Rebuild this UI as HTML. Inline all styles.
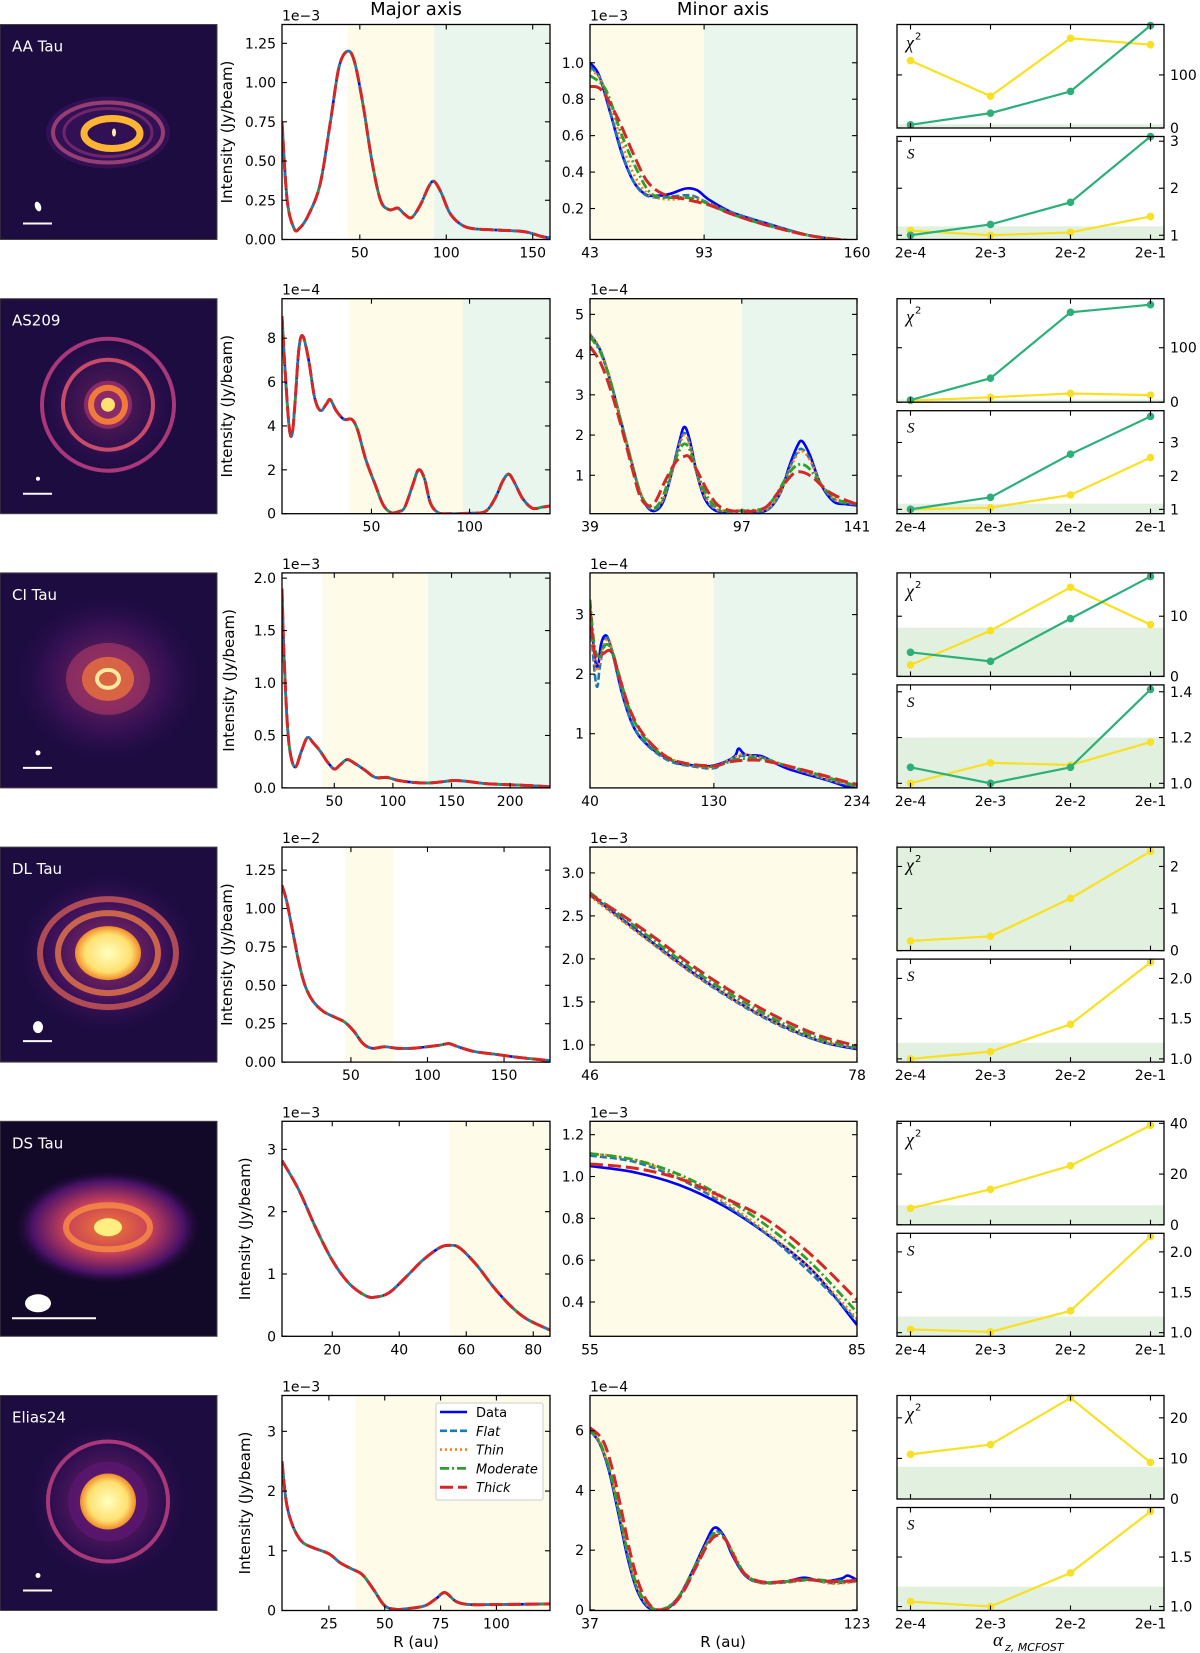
<!DOCTYPE html>
<html><head><meta charset="utf-8"><style>
html,body{margin:0;padding:0;background:#fff;}
svg{display:block;font-family:"DejaVu Sans","Liberation Sans",sans-serif;}
</style></head><body>
<svg id="fig" width="1200" height="1653" viewBox="0 0 1200 1653" xmlns="http://www.w3.org/2000/svg">
<defs>
<radialGradient id="gGlow" cx="50%" cy="50%" r="50%"><stop offset="0" stop-color="#c2406a" stop-opacity="0.9"/><stop offset="0.6" stop-color="#5a1670" stop-opacity="0.6"/><stop offset="1" stop-color="#1c0c40" stop-opacity="0"/></radialGradient>
<radialGradient id="gCore" cx="50%" cy="50%" r="50%"><stop offset="0" stop-color="#ffffc0"/><stop offset="0.7" stop-color="#ffe070"/><stop offset="1" stop-color="#f08a2a"/></radialGradient>
<radialGradient id="gDS" cx="50%" cy="50%" r="50%"><stop offset="0" stop-color="#f07a30"/><stop offset="0.45" stop-color="#c8405a"/><stop offset="0.8" stop-color="#4a1268"/><stop offset="1" stop-color="#120828" stop-opacity="0"/></radialGradient>
</defs>
</svg>
<script>
// ===== Row 1: AA Tau =====
const aaMajor = [[5,0.75],[8,0.25],[12,0.07],[15,0.07],[20,0.15],[27,0.35],[33,0.75],[38,1.1],[43,1.2],[47,1.13],[52,0.85],[57,0.5],[62,0.25],[67,0.19],[72,0.2],[76,0.16],[80,0.14],[85,0.22],[90,0.34],[93,0.37],[97,0.3],[102,0.17],[108,0.1],[115,0.07],[130,0.06],[145,0.05],[155,0.02],[160,0.01]];
const aaMinorData = [[43,1.0],[47,0.93],[52,0.72],[57,0.5],[62,0.35],[67,0.28],[72,0.27],[78,0.28],[85,0.31],[90,0.3],[95,0.25],[105,0.18],[120,0.12],[140,0.05],[160,0.02]];
const aaMinorFlat = [[43,0.98],[48,0.9],[53,0.68],[58,0.47],[63,0.33],[68,0.27],[75,0.26],[82,0.27],[88,0.27],[95,0.23],[105,0.18],[120,0.12],[140,0.05],[160,0.02]];
const aaMinorThin = [[43,0.96],[48,0.9],[54,0.68],[60,0.45],[66,0.31],[72,0.26],[80,0.25],[88,0.26],[95,0.23],[105,0.17],[120,0.11],[140,0.05],[160,0.02]];
const aaMinorModerate = [[43,0.93],[50,0.85],[57,0.6],[64,0.4],[70,0.28],[78,0.26],[85,0.26],[92,0.24],[105,0.17],[120,0.11],[140,0.05],[160,0.02]];
const aaMinorThick = [[43,0.87],[48,0.85],[55,0.7],[62,0.5],[68,0.35],[75,0.28],[85,0.25],[95,0.22],[105,0.17],[120,0.11],[140,0.05],[160,0.02]];
const aaChiYellow = [127,60,169,157];
const aaChiGreen = [6,28,69,193];
const aaSYellow = [1.1,1.0,1.06,1.4];
const aaSGreen = [1.0,1.23,1.7,3.1];

// ===== Row 2: AS209 =====
const asMajor = [[4.4,9.0],[6,6.5],[8,4.0],[9.5,3.6],[11,5],[13,7.5],[15,8.1],[18,7.0],[21,5.3],[24,4.7],[27,5.0],[29,5.2],[32,4.7],[36,4.3],[40,4.3],[43,3.8],[47,2.5],[52,1.3],[56,0.4],[60,0.05],[64,0.1],[67,0.3],[71,1.3],[74,2.0],[77,1.6],[80,0.5],[84,0.05],[90,0.0],[100,0.02],[108,0.1],[113,0.7],[117,1.5],[120,1.8],[123,1.4],[127,0.7],[132,0.25],[137,0.3],[141,0.35]];
const asMinorData = [[39,4.5],[43,4.1],[47,3.3],[51,2.3],[55,1.3],[58,0.6],[61,0.2],[64,0.12],[67,0.35],[70,1.0],[73,1.8],[75,2.2],[77,1.9],[80,1.0],[83,0.4],[87,0.12],[92,0.1],[97,0.12],[100,0.1],[104,0.08],[108,0.2],[112,0.6],[115,1.2],[118,1.7],[120,1.85],[123,1.5],[127,0.8],[132,0.35],[137,0.28],[141,0.25]];
const asMinorFlat = [[39,4.5],[43,4.1],[47,3.3],[51,2.3],[55,1.3],[58,0.6],[61,0.22],[64,0.15],[67,0.4],[70,1.0],[73,1.75],[75,2.05],[77,1.8],[80,1.0],[83,0.45],[87,0.15],[92,0.1],[97,0.12],[104,0.1],[108,0.2],[112,0.6],[115,1.15],[118,1.55],[120,1.65],[123,1.4],[127,0.8],[132,0.4],[137,0.3],[141,0.28]];
const asMinorThin = [[39,4.52],[43,4.12],[47,3.32],[51,2.3],[55,1.32],[58,0.62],[61,0.24],[64,0.18],[67,0.42],[70,1.02],[73,1.7],[75,2.0],[77,1.78],[80,1.02],[83,0.48],[87,0.17],[92,0.11],[97,0.14],[104,0.12],[108,0.22],[112,0.62],[115,1.1],[118,1.5],[120,1.6],[123,1.38],[127,0.82],[132,0.42],[137,0.32],[141,0.3]];
const asMinorModerate = [[39,4.45],[43,4.05],[47,3.3],[51,2.3],[55,1.3],[58,0.6],[61,0.25],[64,0.2],[67,0.5],[70,1.1],[73,1.6],[75,1.78],[77,1.65],[80,1.05],[84,0.45],[88,0.18],[93,0.1],[100,0.12],[106,0.2],[110,0.5],[114,0.95],[117,1.2],[120,1.27],[123,1.15],[127,0.8],[132,0.45],[137,0.32],[141,0.28]];
const asMinorThick = [[39,4.2],[43,3.8],[47,3.1],[51,2.2],[55,1.2],[58,0.5],[61,0.25],[64,0.35],[68,0.9],[72,1.35],[75,1.47],[77,1.45],[80,1.1],[84,0.6],[88,0.25],[93,0.12],[100,0.1],[106,0.2],[110,0.5],[114,0.85],[117,1.05],[120,1.08],[124,0.95],[130,0.6],[136,0.4],[141,0.28]];
const asChiYellow = [3,9,16,13];
const asChiGreen = [4,44,165,179];
const asSYellow = [1.0,1.05,1.43,2.55];
const asSGreen = [1.0,1.36,2.65,3.78];

// ===== Row 3: CI Tau =====
const ciMajor = [[5.4,1.9],[7,1.3],[10,0.6],[13,0.3],[17,0.2],[22,0.35],[27,0.48],[32,0.43],[38,0.35],[44,0.25],[50,0.18],[55,0.22],[61,0.27],[68,0.23],[76,0.17],[85,0.1],[95,0.1],[105,0.07],[120,0.05],[135,0.05],[152,0.07],[165,0.06],[180,0.04],[200,0.03],[220,0.02],[234,0.01]];
const ciMinorData = [[40,3.1],[42,2.6],[44,2.2],[46,2.15],[48,2.5],[51,2.65],[54,2.55],[58,2.2],[63,1.7],[70,1.2],[76,0.95],[85,0.75],[95,0.6],[105,0.5],[115,0.47],[125,0.45],[135,0.5],[145,0.62],[148,0.75],[153,0.65],[165,0.62],[175,0.5],[185,0.4],[200,0.3],[215,0.2],[228,0.1],[234,0.1]];
const ciMinorFlat = [[40,3.0],[42,2.4],[44,1.9],[45.5,1.8],[47,2.1],[50,2.5],[53,2.6],[57,2.3],[62,1.8],[70,1.2],[78,0.9],[88,0.68],[100,0.52],[115,0.45],[130,0.42],[140,0.55],[148,0.62],[155,0.63],[165,0.6],[180,0.48],[200,0.32],[220,0.18],[234,0.12]];
const ciMinorThin = [[40,3.1],[43,2.3],[45,2.05],[48,2.3],[51,2.55],[54,2.55],[58,2.25],[63,1.8],[70,1.3],[80,0.95],[92,0.68],[105,0.52],[120,0.45],[130,0.44],[140,0.55],[150,0.65],[160,0.62],[175,0.52],[195,0.37],[215,0.22],[234,0.12]];
const ciMinorModerate = [[40,3.25],[43,2.5],[46,2.3],[49,2.4],[52,2.5],[56,2.4],[61,2.0],[68,1.45],[76,1.05],[88,0.72],[100,0.55],[115,0.47],[130,0.45],[140,0.52],[150,0.58],[165,0.57],[185,0.45],[205,0.32],[225,0.18],[234,0.13]];
const ciMinorThick = [[40,3.1],[43,2.4],[46,2.3],[50,2.35],[54,2.4],[57,2.3],[62,1.9],[70,1.35],[80,0.95],[95,0.62],[110,0.5],[130,0.46],[140,0.52],[150,0.55],[165,0.55],[185,0.45],[205,0.33],[225,0.2],[234,0.15]];
const ciChiYellow = [1.9,7.6,14.8,8.6];
const ciChiGreen = [4.0,2.5,9.6,16.6];
const ciSYellow = [1.0,1.09,1.08,1.18];
const ciSGreen = [1.07,1.0,1.07,1.41];

// ===== Row 4: DL Tau =====
const dlMajor = [[5,1.15],[8,1.05],[12,0.85],[16,0.65],[20,0.5],[25,0.4],[32,0.33],[40,0.29],[46,0.26],[52,0.2],[58,0.12],[64,0.09],[72,0.1],[80,0.09],[90,0.09],[100,0.1],[108,0.11],[114,0.12],[120,0.1],[130,0.07],[145,0.05],[160,0.03],[180,0.01]];
const dlMinorData = [[46,2.75],[50,2.45],[54,2.15],[58,1.86],[62,1.6],[66,1.37],[70,1.18],[74,1.03],[78,0.95]];
const dlMinorFlat = [[46,2.74],[50,2.44],[54,2.14],[58,1.85],[62,1.59],[66,1.36],[70,1.17],[74,1.03],[78,0.96]];
const dlMinorThin = [[46,2.73],[50,2.43],[54,2.14],[58,1.85],[62,1.6],[66,1.37],[70,1.18],[74,1.04],[78,0.96]];
const dlMinorModerate = [[46,2.77],[50,2.48],[54,2.19],[58,1.9],[62,1.64],[66,1.41],[70,1.21],[74,1.06],[78,0.97]];
const dlMinorThick = [[46,2.75],[50,2.5],[54,2.23],[58,1.94],[62,1.68],[66,1.45],[70,1.25],[74,1.09],[78,0.99]];
const dlChiYellow = [0.23,0.34,1.24,2.36];
const dlSYellow = [1.0,1.09,1.43,2.2];

// ===== Row 5: DS Tau =====
const dsMajor = [[5,2.82],[10,2.35],[15,1.75],[20,1.22],[25,0.85],[30,0.65],[33,0.63],[37,0.7],[42,0.95],[47,1.22],[52,1.42],[55,1.46],[58,1.42],[63,1.15],[68,0.8],[73,0.5],[78,0.28],[85,0.1]];
const dsMinorData = [[55,1.05],[60,1.02],[65,0.96],[70,0.86],[75,0.72],[80,0.55],[85,0.29]];
const dsMinorFlat = [[55,1.1],[60,1.07],[65,0.99],[70,0.87],[75,0.72],[80,0.53],[85,0.31]];
const dsMinorThin = [[55,1.11],[60,1.08],[65,1.0],[70,0.88],[75,0.73],[80,0.55],[85,0.32]];
const dsMinorModerate = [[55,1.11],[60,1.08],[65,1.01],[70,0.9],[75,0.76],[80,0.58],[85,0.35]];
const dsMinorThick = [[55,1.06],[60,1.04],[65,0.99],[70,0.9],[75,0.79],[80,0.62],[85,0.41]];
const dsChiYellow = [6.5,14,23.3,39.2];
const dsSYellow = [1.04,1.01,1.27,2.19];

// ===== Row 6: Elias24 =====
const elMajor = [[4,2.5],[6,1.8],[9,1.4],[13,1.15],[18,1.05],[25,0.95],[30,0.8],[35,0.7],[40,0.6],[45,0.35],[50,0.08],[55,0.02],[60,0.03],[68,0.08],[73,0.2],[77,0.3],[82,0.15],[88,0.1],[100,0.1],[124,0.11]];
const elMinorData = [[37,6.0],[40,5.6],[43,4.7],[46,3.3],[49,1.8],[52,0.7],[55,0.15],[58,0.0],[62,0.05],[66,0.5],[70,1.3],[74,2.2],[77,2.75],[80,2.5],[83,1.8],[87,1.15],[92,0.92],[100,0.95],[106,1.08],[112,0.95],[118,1.05],[120,1.15],[123,1.0]];
const elMinorFlat = [[37,6.0],[40,5.6],[43,4.75],[46,3.4],[49,1.9],[52,0.75],[55,0.2],[58,0.0],[62,0.1],[66,0.45],[70,1.2],[74,2.1],[77,2.6],[80,2.5],[83,1.9],[87,1.15],[92,0.9],[100,0.92],[108,1.0],[115,0.9],[123,0.95]];
const elMinorThin = [[37,6.02],[40,5.62],[43,4.78],[46,3.45],[49,1.95],[52,0.8],[55,0.22],[58,0.02],[62,0.1],[66,0.5],[70,1.22],[74,2.1],[77,2.55],[80,2.45],[83,1.95],[87,1.2],[92,0.9],[100,0.93],[108,1.0],[115,0.88],[123,0.95]];
const elMinorModerate = [[37,6.05],[40,5.65],[43,4.8],[46,3.5],[49,2.0],[52,0.85],[55,0.25],[58,0.02],[62,0.08],[66,0.5],[70,1.3],[74,2.1],[77,2.55],[80,2.45],[83,1.9],[87,1.2],[92,0.93],[100,0.95],[108,1.02],[115,0.97],[123,0.98]];
const elMinorThick = [[37,6.1],[41,5.7],[44,4.8],[47,3.4],[50,1.9],[53,0.8],[56,0.2],[59,0.0],[63,0.1],[67,0.6],[71,1.4],[75,2.2],[78,2.5],[81,2.3],[85,1.45],[89,1.05],[95,0.92],[105,1.02],[112,0.97],[118,0.95],[123,1.0]];
const elChiYellow = [11,13.4,24.9,9];
const elSYellow = [1.05,1.0,1.34,1.96];

const alphaLabels = ["2e-4","2e-3","2e-2","2e-1"];
const legendLabels = ["Data","Flat","Thin","Moderate","Thick"];

const NS = "http://www.w3.org/2000/svg";
const svg = document.getElementById("fig");
function mk(tag, attrs, parent){ const e=document.createElementNS(NS,tag); for(const k in attrs) e.setAttribute(k,attrs[k]); (parent||svg).appendChild(e); return e; }
function tag(e, n, inter){
  
  
}
function txt(x,y,s,attrs,parent){ const t=mk("text",Object.assign({x:x,y:y,"font-size":14,fill:"#000"},attrs||{}),parent); t.textContent=s; return t; }
function smooth(pts){
  let d="M"+pts[0][0].toFixed(2)+","+pts[0][1].toFixed(2);
  for(let i=0;i<pts.length-1;i++){
    const p0=pts[i-1]||pts[i], p1=pts[i], p2=pts[i+1], p3=pts[i+2]||p2;
    const c1=[p1[0]+(p2[0]-p0[0])/6, p1[1]+(p2[1]-p0[1])/6];
    const c2=[p2[0]-(p3[0]-p1[0])/6, p2[1]-(p3[1]-p1[1])/6];
    d+="C"+c1[0].toFixed(2)+","+c1[1].toFixed(2)+" "+c2[0].toFixed(2)+","+c2[1].toFixed(2)+" "+p2[0].toFixed(2)+","+p2[1].toFixed(2);
  }
  return d;
}
const STY = {
  data:{stroke:"#0000ff","stroke-width":2.6,dash:null},
  flat:{stroke:"#1f77b4","stroke-width":2.6,dash:"7,3"},
  thin:{stroke:"#ff7f0e","stroke-width":2.6,dash:"2,3"},
  moderate:{stroke:"#2ca02c","stroke-width":2.8,dash:"9,3,2,3"},
  thick:{stroke:"#d62728","stroke-width":3,dash:"13,5"}
};
const YEL="#fefbe8", GRN="#e8f6ee", BAND="#e2f0e0", CY="#f9e020", CG="#2bb07a";
const ROW0=24.5, ROWSTEP=274.2, H=215;
let clipId=0;

function fmt(v,dec){ return dec===0? String(Math.round(v)) : v.toFixed(dec); }

function profilePanel(o){
  const g=mk("g",{}); tag(g,o.name+"-panel",false);
  const x0=o.x0,x1=o.x1,y0=o.top,y1=o.top+H;
  const sx=v=>x0+(v-o.xd[0])/(o.xd[1]-o.xd[0])*(x1-x0);
  const sy=v=>y1-(v-o.yd[0])/(o.yd[1]-o.yd[0])*(y1-y0);
  (o.bands||[]).forEach(b=>{
    const r=mk("rect",{x:sx(b[0]),y:y0,width:sx(b[1])-sx(b[0]),height:H,fill:b[2]==="y"?YEL:GRN},g);
    tag(r,o.name+"-region-"+(b[2]==="y"?"yellow":"green"),false);
  });
  const cid="clip"+(clipId++);
  const cp=mk("clipPath",{id:cid},g); mk("rect",{x:x0,y:y0,width:x1-x0,height:H},cp);
  const cg=mk("g",{"clip-path":"url(#"+cid+")"},g);
  o.series.forEach(s=>{
    const st=STY[s.kind];
    const p=mk("path",{d:smooth(s.pts.map(q=>[sx(q[0]),sy(q[1])])),fill:"none",stroke:st.stroke,"stroke-width":st["stroke-width"],"stroke-linecap":"butt"},cg);
    if(st.dash) p.setAttribute("stroke-dasharray",st.dash);
    tag(p,o.name+"-"+s.kind+"-line",false);
  });
  const fr=mk("rect",{x:x0,y:y0,width:x1-x0,height:H,fill:"none",stroke:"#000","stroke-width":1.3},g); tag(fr,o.name+"-frame",false);
  o.yt.forEach(v=>{
    const y=sy(v);
    mk("line",{x1:x0,y1:y,x2:x0+5,y2:y,stroke:"#000","stroke-width":1.1},g);
    mk("line",{x1:x1,y1:y,x2:x1-5,y2:y,stroke:"#000","stroke-width":1.1},g);
    const t=txt(x0-6,y+5,fmt(v,o.ydec),{"text-anchor":"end"},g); tag(t,o.name+"-y-tick-label",false);
  });
  o.xt.forEach(v=>{
    const x=sx(v);
    mk("line",{x1:x,y1:y1,x2:x,y2:y1-5,stroke:"#000","stroke-width":1.1},g);
    mk("line",{x1:x,y1:y0,x2:x,y2:y0+5,stroke:"#000","stroke-width":1.1},g);
    const t=txt(x,y1+18,String(v),{"text-anchor":"middle"},g); tag(t,o.name+"-x-tick-label",false);
  });
  const ex=txt(x0,y0-4,o.exp,{"font-size":14},g); tag(ex,o.name+"-offset-label",false);
  if(o.ylab){ const t=txt(0,0,"Intensity (Jy/beam)",{"font-size":15,"text-anchor":"middle",transform:"translate("+o.ylab+","+(y0+H/2)+") rotate(-90)"},g); tag(t,"y-axis-title",false); }
}

function metricPanel(o){
  const g=mk("g",{}); tag(g,o.name,false);
  const x0=897,x1=1164,y0=o.top,y1=o.top+o.h;
  const pad=13.5;
  const sx=i=>x0+pad+i*(x1-x0-2*pad)/3;
  const sy=v=>y1-(v-o.yd[0])/(o.yd[1]-o.yd[0])*(y1-y0);
  const band=mk("rect",{x:x0,y:sy(o.band),width:x1-x0,height:y1-sy(o.band),fill:BAND},g); tag(band,o.name+"-threshold-band",false);
  o.series.forEach(s=>{
    const pts=s.vals.map((v,i)=>sx(i).toFixed(2)+","+sy(v).toFixed(2)).join(" ");
    const pl=mk("polyline",{points:pts,fill:"none",stroke:s.c,"stroke-width":2.2},g); tag(pl,o.name+"-line",false);
    s.vals.forEach((v,i)=>{ const c=mk("circle",{cx:sx(i),cy:sy(v),r:3.8,fill:s.c},g); tag(c,o.name+"-point",false); });
  });
  mk("rect",{x:x0,y:y0,width:x1-x0,height:o.h,fill:"none",stroke:"#000","stroke-width":1.3},g);
  o.yt.forEach(v=>{
    const y=sy(v);
    mk("line",{x1:x0,y1:y,x2:x0+5,y2:y,stroke:"#000","stroke-width":1.1},g);
    mk("line",{x1:x1,y1:y,x2:x1-5,y2:y,stroke:"#000","stroke-width":1.1},g);
    const t=txt(x1+6,y+5,fmt(v,o.ydec),{"text-anchor":"start","font-size":14},g); tag(t,o.name+"-tick-label",false);
  });
  for(let i=0;i<4;i++){
    mk("line",{x1:sx(i),y1:y1,x2:sx(i),y2:y1-5,stroke:"#000","stroke-width":1.1},g);
    mk("line",{x1:sx(i),y1:y0,x2:sx(i),y2:y0+5,stroke:"#000","stroke-width":1.1},g);
    if(o.xlabels){ const t=txt(sx(i),y1+18,alphaLabels[i],{"text-anchor":"middle"},g); tag(t,"alpha-tick-label",false); }
  }
  const lab = o.kind==="chi" ? txt(x0+9,y0+24,"χ",{"font-size":18,"font-style":"italic","font-family":"Liberation Serif, serif"},g)
                             : txt(x0+10,y0+22,"S",{"font-size":15,"font-style":"italic","font-family":"Liberation Serif, serif"},g);
  if(o.kind==="chi"){ const sup=txt(x0+18,y0+15,"2",{"font-size":10},g); tag(sup,"chi2-superscript",false); }
  tag(lab,o.name+"-label",false);
}

const rows=[
 {name:"aa-tau",label:"AA Tau",major:aaMajor,majX:[5,160],majY:[0,1.37],majYT:[0,0.25,0.5,0.75,1.0,1.25],majDec:2,majXT:[50,100,150],majB:[[43,93,"y"],[93,160,"g"]],exp:"1e−3",
  mi:[aaMinorData,aaMinorFlat,aaMinorThin,aaMinorModerate,aaMinorThick],miX:[43,160],miY:[0.03,1.21],miYT:[0.2,0.4,0.6,0.8,1.0],miDec:1,miXT:[43,93,160],miB:[[43,93,"y"],[93,160,"g"]],miExp:"1e−3",
  chi:{yd:[0,195],yt:[0,100],dec:0,band:7,s:[[aaChiYellow,CY],[aaChiGreen,CG]]},S:{yd:[0.91,3.1],yt:[1,2,3],dec:0,band:1.19,s:[[aaSYellow,CY],[aaSGreen,CG]]},ylab:232},
 {name:"as209",label:"AS209",major:asMajor,majX:[4.4,141],majY:[0,9.8],majYT:[0,2,4,6,8],majDec:0,majXT:[50,100],majB:[[38.5,96.6,"y"],[96.6,141,"g"]],exp:"1e−4",
  mi:[asMinorData,asMinorFlat,asMinorThin,asMinorModerate,asMinorThick],miX:[39,141],miY:[0.045,5.39],miYT:[1,2,3,4,5],miDec:0,miXT:[39,97,141],miB:[[39,97,"y"],[97,141,"g"]],miExp:"1e−4",
  chi:{yd:[0,190],yt:[0,100],dec:0,band:5,s:[[asChiYellow,CY],[asChiGreen,CG]]},S:{yd:[0.87,3.95],yt:[1,2,3],dec:0,band:1.17,s:[[asSYellow,CY],[asSGreen,CG]]},ylab:232},
 {name:"ci-tau",label:"CI Tau",major:ciMajor,majX:[5.4,234],majY:[0,2.05],majYT:[0,0.5,1.0,1.5,2.0],majDec:1,majXT:[50,100,150,200],majB:[[40,130,"y"],[130,234,"g"]],exp:"1e−3",
  mi:[ciMinorData,ciMinorFlat,ciMinorThin,ciMinorModerate,ciMinorThick],miX:[40,234],miY:[0.09,3.7],miYT:[1,2,3],miDec:0,miXT:[40,130,234],miB:[[40,130,"y"],[130,234,"g"]],miExp:"1e−4",
  chi:{yd:[0,17.2],yt:[0,10],dec:0,band:8.1,s:[[ciChiYellow,CY],[ciChiGreen,CG]]},S:{yd:[0.98,1.43],yt:[1.0,1.2,1.4],dec:1,band:1.2,s:[[ciSYellow,CY],[ciSGreen,CG]]},ylab:234},
 {name:"dl-tau",label:"DL Tau",major:dlMajor,majX:[5,180],majY:[0,1.40],majYT:[0,0.25,0.5,0.75,1.0,1.25],majDec:2,majXT:[50,100,150],majB:[[46.4,78,"y"]],exp:"1e−2",
  mi:[dlMinorData,dlMinorFlat,dlMinorThin,dlMinorModerate,dlMinorThick],miX:[46,78],miY:[0.8,3.3],miYT:[1.0,1.5,2.0,2.5,3.0],miDec:1,miXT:[46,78],miB:[[46,78,"y"]],miExp:"1e−3",
  chi:{yd:[0,2.46],yt:[0,1,2],dec:0,band:2.46,s:[[dlChiYellow,CY]]},S:{yd:[0.96,2.24],yt:[1.0,1.5,2.0],dec:1,band:1.2,s:[[dlSYellow,CY]]},ylab:232},
 {name:"ds-tau",label:"DS Tau",major:dsMajor,majX:[5,85],majY:[0,3.45],majYT:[0,1,2,3],majDec:0,majXT:[20,40,60,80],majB:[[55,85,"y"]],exp:"1e−3",
  mi:[dsMinorData,dsMinorFlat,dsMinorThin,dsMinorModerate,dsMinorThick],miX:[55,85],miY:[0.236,1.264],miYT:[0.4,0.6,0.8,1.0,1.2],miDec:1,miXT:[55,85],miB:[[55,85,"y"]],miExp:"1e−3",
  chi:{yd:[0,40.8],yt:[0,20,40],dec:0,band:7.7,s:[[dsChiYellow,CY]]},S:{yd:[0.955,2.23],yt:[1.0,1.5,2.0],dec:1,band:1.2,s:[[dsSYellow,CY]]},ylab:250},
 {name:"elias24",label:"Elias24",major:elMajor,majX:[4,124],majY:[0,3.6],majYT:[0,1,2,3],majDec:0,majXT:[25,50,75,100],majB:[[37,124,"y"]],exp:"1e−3",
  mi:[elMinorData,elMinorFlat,elMinorThin,elMinorModerate,elMinorThick],miX:[37,123],miY:[-0.02,7.18],miYT:[0,2,4,6],miDec:0,miXT:[37,123],miB:[[37,123,"y"]],miExp:"1e−4",
  chi:{yd:[0,25.5],yt:[0,10,20],dec:0,band:7.9,s:[[elChiYellow,CY]]},S:{yd:[0.96,2.0],yt:[1.0,1.5],dec:1,band:1.2,s:[[elSYellow,CY]]},ylab:250}
];
const kinds=["data","flat","thin","moderate","thick"];

function diskImage(r,top,i){
  const g=mk("g",{transform:"translate(0,"+top+")"}); tag(g,r.name+"-image",false);
  mk("rect",{x:0,y:0,width:217,height:H,fill:"#1c0c40"},g);
  const cx=108,cy=106;
  if(i===0){
    mk("ellipse",{cx:cx,cy:cy+2,rx:62,ry:36,fill:"#3a1260",opacity:0.7},g);
    mk("ellipse",{cx:cx,cy:cy+2,rx:55,ry:30,fill:"none",stroke:"#b04a78","stroke-width":4,opacity:0.8},g);
    mk("ellipse",{cx:cx,cy:cy+2,rx:44,ry:24,fill:"none",stroke:"#8a3070","stroke-width":3,opacity:0.7},g);
    mk("ellipse",{cx:cx+4,cy:cy+3,rx:28,ry:15,fill:"none",stroke:"#ffb534","stroke-width":7},g);
    mk("ellipse",{cx:cx+6,cy:cy+2,rx:2,ry:4,fill:"#fff0a0"},g);
    mk("ellipse",{cx:38,cy:182,rx:3,ry:5,fill:"#fff",transform:"rotate(-20 38 182)"},g);
    mk("line",{x1:23,y1:199,x2:52,y2:199,stroke:"#fff","stroke-width":2},g);
  } else if(i===1){
    mk("circle",{cx:cx,cy:cy,r:78,fill:"url(#gGlow)",opacity:0.5},g);
    mk("circle",{cx:cx,cy:cy,r:66,fill:"none",stroke:"#a8387a","stroke-width":4},g);
    mk("circle",{cx:cx,cy:cy,r:45,fill:"none",stroke:"#c84c68","stroke-width":4},g);
    mk("circle",{cx:cx,cy:cy,r:24,fill:"#8a2a6a"},g);
    mk("circle",{cx:cx,cy:cy,r:17,fill:"none",stroke:"#f07a38","stroke-width":6},g);
    mk("circle",{cx:cx,cy:cy,r:7,fill:"#ffe070"},g);
    mk("circle",{cx:38,cy:180,r:2,fill:"#fff"},g);
    mk("line",{x1:23,y1:195,x2:52,y2:195,stroke:"#fff","stroke-width":2},g);
  } else if(i===2){
    mk("ellipse",{cx:cx,cy:cy,rx:100,ry:90,fill:"url(#gGlow)",opacity:0.7},g);
    mk("ellipse",{cx:cx,cy:cy,rx:42,ry:36,fill:"#b03a68",opacity:0.6},g);
    mk("ellipse",{cx:cx,cy:cy,rx:26,ry:22,fill:"#e06a40",opacity:0.9},g);
    mk("ellipse",{cx:cx,cy:cy,rx:11,ry:9,fill:"none",stroke:"#ffe8a0","stroke-width":4},g);
    mk("circle",{cx:38,cy:180,r:2.5,fill:"#fff"},g);
    mk("line",{x1:23,y1:195,x2:52,y2:195,stroke:"#fff","stroke-width":2},g);
  } else if(i===3){
    mk("ellipse",{cx:cx,cy:cy,rx:95,ry:85,fill:"url(#gGlow)",opacity:0.9},g);
    mk("ellipse",{cx:cx,cy:cy,rx:68,ry:54,fill:"none",stroke:"#d05a58","stroke-width":6,opacity:0.8},g);
    mk("ellipse",{cx:cx,cy:cy,rx:50,ry:40,fill:"none",stroke:"#e87848","stroke-width":6,opacity:0.8},g);
    mk("ellipse",{cx:cx,cy:cy,rx:33,ry:27,fill:"url(#gCore)"},g);
    mk("ellipse",{cx:38,cy:180,rx:5,ry:6,fill:"#fff"},g);
    mk("line",{x1:23,y1:194,x2:52,y2:194,stroke:"#fff","stroke-width":2},g);
  } else if(i===4){
    mk("rect",{x:0,y:0,width:217,height:H,fill:"#120828"},g);
    mk("ellipse",{cx:cx,cy:cy,rx:95,ry:58,fill:"url(#gDS)"},g);
    mk("ellipse",{cx:cx,cy:cy,rx:42,ry:22,fill:"none",stroke:"#ff9a40","stroke-width":6,opacity:0.7},g);
    mk("ellipse",{cx:cx,cy:cy,rx:14,ry:9,fill:"#ffee80"},g);
    mk("ellipse",{cx:38,cy:182,rx:13,ry:9,fill:"#fff"},g);
    mk("line",{x1:12,y1:197,x2:96,y2:197,stroke:"#fff","stroke-width":2},g);
  } else {
    mk("circle",{cx:cx,cy:cy,r:85,fill:"url(#gGlow)",opacity:0.7},g);
    mk("circle",{cx:cx,cy:cy,r:60,fill:"none",stroke:"#a8387a","stroke-width":4},g);
    mk("circle",{cx:cx,cy:cy,r:40,fill:"#5a1670",opacity:0.8},g);
    mk("circle",{cx:cx,cy:cy,r:28,fill:"url(#gCore)"},g);
    mk("circle",{cx:38,cy:180,r:2.5,fill:"#fff"},g);
    mk("line",{x1:23,y1:195,x2:52,y2:195,stroke:"#fff","stroke-width":2},g);
  }
  mk("rect",{x:0,y:0,width:217,height:H,fill:"none",stroke:"#444","stroke-width":1},g);
  const t=txt(12,27,r.label,{fill:"#fff","font-size":15},g); tag(t,r.name+"-label",false);
}

rows.forEach((r,i)=>{
  const top=ROW0+ROWSTEP*i;
  diskImage(r,top,i);
  profilePanel({name:r.name+"-major",x0:282,x1:550,top:top,xd:r.majX,yd:r.majY,yt:r.majYT,ydec:r.majDec,xt:r.majXT,bands:r.majB,exp:r.exp,ylab:r.ylab,
    series:[{kind:"data",pts:r.major},{kind:"moderate",pts:r.major},{kind:"thin",pts:r.major},{kind:"flat",pts:r.major},{kind:"thick",pts:r.major}]});
  profilePanel({name:r.name+"-minor",x0:590,x1:857,top:top,xd:r.miX,yd:r.miY,yt:r.miYT,ydec:r.miDec,xt:r.miXT,bands:r.miB,exp:r.miExp,
    series:r.mi.map((p,k)=>({kind:kinds[k],pts:p}))});
  metricPanel({name:r.name+"-chi2",kind:"chi",top:top,h:103.5,yd:r.chi.yd,yt:r.chi.yt,ydec:r.chi.dec,band:r.chi.band,series:r.chi.s.map(s=>({vals:s[0],c:s[1]}))});
  metricPanel({name:r.name+"-s-metric",kind:"S",top:top+112,h:103,yd:r.S.yd,yt:r.S.yt,ydec:r.S.dec,band:r.S.band,xlabels:true,series:r.S.s.map(s=>({vals:s[0],c:s[1]}))});
});

// titles
const t1=txt(416,15,"Major axis",{"font-size":18,"text-anchor":"middle"}); tag(t1,"major-axis-title",false);
const t2=txt(723,15,"Minor axis",{"font-size":18,"text-anchor":"middle"}); tag(t2,"minor-axis-title",false);
const b1=txt(416,1647,"R (au)",{"font-size":15,"text-anchor":"middle"}); tag(b1,"major-x-axis-title",false);
const b2=txt(723,1647,"R (au)",{"font-size":15,"text-anchor":"middle"}); tag(b2,"minor-x-axis-title",false);
const b3=txt(993,1646,"α",{"font-size":19,"font-style":"italic","font-family":"Liberation Serif, serif"}); tag(b3,"alpha-axis-title",false);
const b4=txt(1005,1651,"z, MCFOST",{"font-size":11,"font-style":"italic"}); tag(b4,"alpha-axis-subscript",false);

// legend
const lg=mk("g",{}); tag(lg,"legend",false);
mk("rect",{x:436,y:1403,width:107,height:97,fill:"#fff",stroke:"#ccc","stroke-width":1,rx:2},lg);
legendLabels.forEach((lab,k)=>{
  const st=STY[kinds[k]];
  const y=1412+k*18.8;
  const l=mk("line",{x1:440,y1:y,x2:467,y2:y,stroke:st.stroke,"stroke-width":st["stroke-width"]},lg);
  if(st.dash) l.setAttribute("stroke-dasharray",st.dash);
  tag(l,"legend-swatch-"+kinds[k],false);
  const t=txt(476,y+5,lab,{"font-size":13,"font-style":k>0?"italic":"normal"},lg);
  tag(t,"legend-entry-"+kinds[k],false);
});
</script>
</body></html>
